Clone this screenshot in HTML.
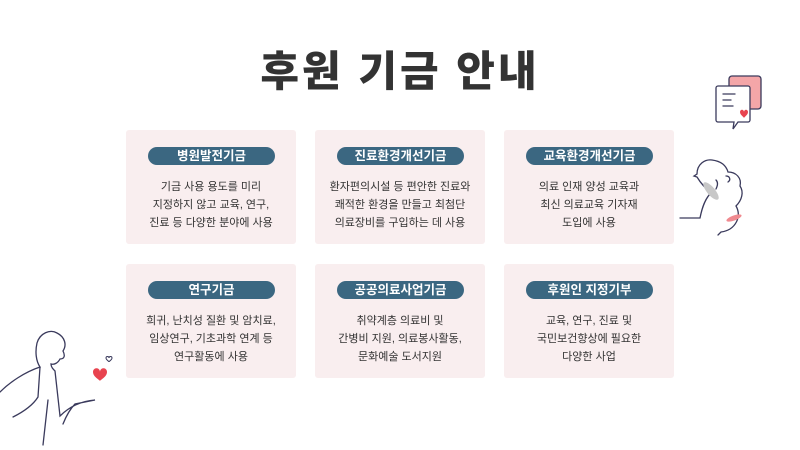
<!DOCTYPE html>
<html><head><meta charset="utf-8"><style>
body{margin:0;width:800px;height:450px;background:#fff;position:relative;overflow:hidden;font-family:"Liberation Sans","Noto Sans CJK KR",sans-serif}
h1{position:absolute;left:0;width:800px;top:44px;margin:0;text-align:center;font-size:42px;font-weight:900;color:#333;letter-spacing:3px;line-height:56px}
.c{position:absolute;width:170px;height:114px;background:#f9eeef;border-radius:3px}
.p{position:absolute;left:22px;width:127px;top:17px;height:18px;background:#3b6781;border-radius:10px;color:#fff;font-weight:bold;font-size:12.5px;line-height:18px;text-align:center}
.t{position:absolute;left:0;width:170px;top:48px;text-align:center;font-size:11px;line-height:18px;color:#333}
</style></head><body>
<h1>후원 기금 안내</h1>
<div class="c" style="left:126px;top:130px"><div class="p">병원발전기금</div><div class="t">기금 사용 용도를 미리<br>지정하지 않고 교육, 연구,<br>진료 등 다양한 분야에 사용</div></div>
<div class="c" style="left:315px;top:130px"><div class="p">진료환경개선기금</div><div class="t">환자편의시설 등 편안한 진료와<br>쾌적한 환경을 만들고 최첨단<br>의료장비를 구입하는 데 사용</div></div>
<div class="c" style="left:504px;top:130px"><div class="p">교육환경개선기금</div><div class="t">의료 인재 양성 교육과<br>최신 의료교육 기자재<br>도입에 사용</div></div>
<div class="c" style="left:126px;top:264px"><div class="p">연구기금</div><div class="t">희귀, 난치성 질환 및 암치료,<br>임상연구, 기초과학 연계 등<br>연구활동에 사용</div></div>
<div class="c" style="left:315px;top:264px"><div class="p">공공의료사업기금</div><div class="t">취약계층 의료비 및<br>간병비 지원, 의료봉사활동,<br>문화예술 도서지원</div></div>
<div class="c" style="left:504px;top:264px"><div class="p">후원인 지정기부</div><div class="t">교육, 연구, 진료 및<br>국민보건향상에 필요한<br>다양한 사업</div></div>
<svg width="800" height="450" style="position:absolute;left:0;top:0" fill="none" stroke="#3a3a5c" stroke-width="1.3" stroke-linecap="round">
<rect x="729" y="76" width="32" height="33" rx="3" fill="#f4a6a8" stroke="#3a3a5c"/>
<path d="M718 86h30a2 2 0 0 1 2 2v32a2 2 0 0 1-2 2h-10l-5 7 1-7h-16a2 2 0 0 1-2-2v-32a2 2 0 0 1 2-2z" fill="#fff"/>
<path d="M723 94h12M723 100h8M723 106h10"/>
<path d="M740 112c0-3 4-3 4 0c0-3 4-3 4 0c0 3-4 5-4 6c0-1-4-3-4-6z" fill="#e8434f" stroke="none"/>
<path d="M680 218l20 0c2-10 5-20 12-26c-6-2-12-10-15-15l-3-1 3-2c0-10 8-15 15-14c8 1 14 5 16 12c8 0 14 6 12 14c4 6 2 14-4 20c6 10 0 24-15 26l-3 3"/>
<path d="M716 189c2-4 2-7 0-9M726 176c4 0 5 4 2 6"/>
<ellipse cx="711" cy="191" rx="4" ry="11" transform="rotate(-40 711 191)" fill="#c8c8c8" stroke="none"/>
<ellipse cx="734" cy="218" rx="8" ry="2.5" transform="rotate(-20 734 218)" fill="#f08a90" stroke="none"/>
<path d="M0 392c10-10 25-20 40-25c-4-6-5-15-3-24c3-10 13-14 20-10c8 4 10 12 6 18c2 4 2 8-3 8c-2 4-6 6-9 5c0 3 2 5 4 7l5 45c10-10 22-15 35-16l-20 4c-6 6-10 15-12 20M40 367l-2 30c-5 8-15 15-25 20M48 400l-5 45"/>
<path d="M93 372c0-5 7-5 7 0c0-5 7-5 7 0c0 5-7 8-7 9c0-1-7-4-7-9z" fill="#e8434f" stroke="none"/>
<path d="M106 358c0-2 3-2 3 0c0-2 3-2 3 0c0 2-3 3-3 4c0-1-3-2-3-4z" stroke-width="1"/>
</svg>
</body></html>
